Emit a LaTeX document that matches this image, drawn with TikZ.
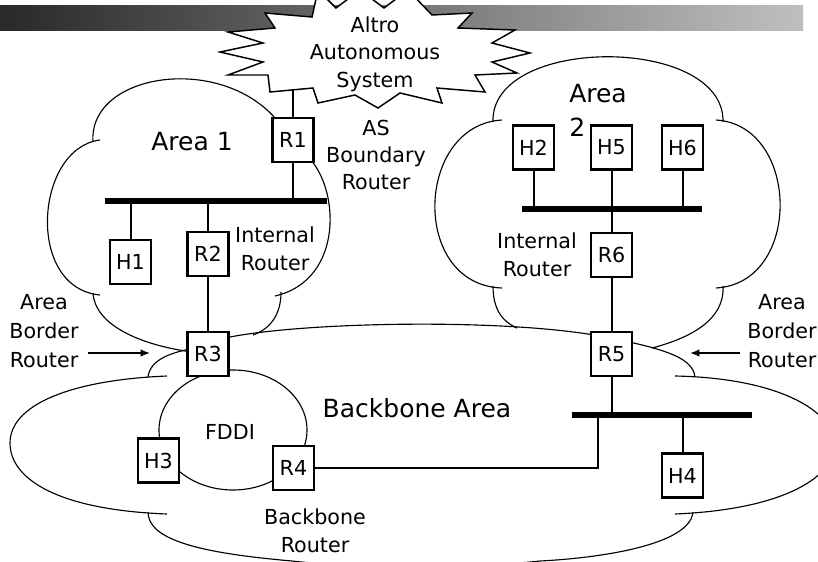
\documentclass[tikz,border=0pt]{standalone}
\usepackage{fontspec}
\setmainfont{DejaVu Sans}
\usetikzlibrary{arrows.meta}
\begin{document}
\begin{tikzpicture}[x=0.75pt,y=-0.75pt,
  devbox/.style={draw,line width=2pt,fill=white,minimum width=30.75pt,minimum height=33pt,inner sep=0pt,font=\fontsize{15.5}{18}\selectfont},
  wire/.style={line width=1.5pt},
  busbar/.style={line width=4.5pt},
  cloudline/.style={line width=0.85pt},
  lbl/.style={align=center,inner sep=0pt,font=\fontsize{15.5}{20.6}\selectfont},
  biglbl/.style={inner sep=0pt,font=\fontsize{18.75}{25.5}\selectfont},
  pointer/.style={line width=1pt,-{Latex[length=7pt,width=5.5pt]}}]

\clip (0,0) rectangle (818,561);

% title bar
\shade[left color=black!84,right color=black!25] (0,5) rectangle (803,30);

% ---- Area 1 cloud ----
\draw[cloudline] (93,142) .. controls (88,72) and (225,52) .. (280,124);
\draw[cloudline] (306,155) .. controls (340,185) and (345,280) .. (275,296);
\draw[cloudline] (281,292) .. controls (281,315) and (270,329) .. (253,335);
\draw[cloudline] (100,140) .. controls (35,148) and (25,288) .. (100,295);
\draw[cloudline] (93,293) .. controls (95,325) and (140,345) .. (192,352);

% ---- Area 2 cloud ----
\draw[cloudline] (493,122) .. controls (490,35) and (725,35) .. (723,122);
\draw[cloudline] (502,120) .. controls (415,125) and (410,285) .. (502,288);
\draw[cloudline] (716,120) .. controls (800,125) and (803,283) .. (716,288);
\draw[cloudline] (493,286) .. controls (493,310) and (503,322) .. (517,328);
\draw[cloudline] (723,286) .. controls (725,320) and (690,338) .. (652,348);

% ---- Backbone cloud ----
\draw[cloudline] (225,338) .. controls (300,322) and (500,318) .. (600,336);
\draw[cloudline] (625,341) .. controls (665,350) and (693,358) .. (695,377);
\draw[cloudline] (675,376) .. controls (880,380) and (895,505) .. (675,514);
\draw[cloudline] (693,512) .. controls (690,545) and (600,558) .. (540,561)
  .. controls (480,568) and (350,568) .. (292,561)
  .. controls (200,553) and (148,540) .. (148,512);
\draw[cloudline] (167,514) .. controls (60,510) and (10,480) .. (10,443)
  .. controls (10,405) and (70,380) .. (167,376);
\draw[cloudline] (148,377) .. controls (150,360) and (170,353) .. (190,349);

% FDDI ring
\draw[cloudline] (233,430) ellipse [x radius=74,y radius=60];

% autonomous system starburst
\draw[line width=1.1pt,fill=white] (220,52) -- (263,43) -- (228,32) -- (275,28) -- (265,13)
  -- (312,17) -- (318,-10) -- (336,8) -- (360,-10) -- (384,8) -- (408,-10) -- (432,15)
  -- (472,13) -- (458,28) -- (515,30) -- (492,43) -- (530,53) -- (492,62) -- (517,73)
  -- (475,75) -- (485,92) -- (437,88) -- (442,103) -- (400,93) -- (378,108) -- (355,95)
  -- (318,103) -- (313,88) -- (270,92) -- (268,75) -- (228,75) -- (263,62) -- cycle;
\node[lbl] (astext) at (375,54) {Altro\\Autonomous\\System};
\coordinate (asb) at (293,90);

% routers and hosts
\node[devbox] (R1) at (293,140) {R1};
\node[devbox] (R2) at (208,254) {R2};
\node[devbox] (R3) at (208,354) {R3};
\node[devbox] (H1) at (130.5,262) {H1};
\node[devbox] (H2) at (533.5,147.5) {H2};
\node[devbox] (H5) at (611.5,147.5) {H5};
\node[devbox] (H6) at (682.5,147.5) {H6};
\node[devbox] (R6) at (611.5,255) {R6};
\node[devbox] (R5) at (611.5,354) {R5};
\node[devbox] (H3) at (158.5,460.5) {H3};
\node[devbox] (R4) at (293.5,468) {R4};
\node[devbox] (H4) at (682.5,475.5) {H4};

% buses
\coordinate (b1L) at (105,201);
\coordinate (b1R) at (327,201);
\coordinate (b2L) at (522,209);
\coordinate (b2R) at (702,209);
\coordinate (b3L) at (572,415);
\coordinate (b3R) at (752,415);
\coordinate (b3tap) at (598,415);
\draw[busbar] (b1L) -- (b1R);
\draw[busbar] (b2L) -- (b2R);
\draw[busbar] (b3L) -- (b3R);

% links
\draw[wire] (asb) -- (R1.north);
\draw[wire] (R1.south) -- (R1.south |- b1L);
\draw[wire] (H1.north) -- (H1.north |- b1L);
\draw[wire] (R2.north) -- (R2.north |- b1L);
\draw[wire] (R2.south) -- (R3.north);
\draw[wire] (H2.south) -- (H2.south |- b2L);
\draw[wire] (H5.south) -- (H5.south |- b2L);
\draw[wire] (H6.south) -- (H6.south |- b2L);
\draw[wire] (R6.north) -- (R6.north |- b2L);
\draw[wire] (R6.south) -- (R5.north);
\draw[wire] (R5.south) -- (R5.south |- b3L);
\draw[wire] (H4.north) -- (H4.north |- b3L);
\draw[wire] (R4.east) -- (R4.east -| b3tap) -- (b3tap);

% labels
\node[biglbl] (a1) at (192,142) {Area 1};
\node[biglbl,align=left,anchor=west] (a2) at (569,110) {Area\\2};
\node[biglbl] (bb) at (417,408) {Backbone Area};
\node[lbl] (ir1) at (275,249) {Internal\\Router};
\node[lbl] (ir2) at (537,255) {Internal\\Router};
\node[lbl] (asbr) at (376,155) {AS\\Boundary\\Router};
\node[lbl,font=\fontsize{15.5}{21.75}\selectfont] (abrL) at (44,331) {Area\\Border\\Router};
\node[lbl,font=\fontsize{15.5}{21.75}\selectfont] (abrR) at (782,331) {Area\\Border\\Router};
\node[lbl] (fddi) at (230,432) {FDDI};
\node[lbl] (bbr) at (315,531) {Backbone\\Router};

% pointers to the area border routers
\coordinate (pL0) at (88,353);
\coordinate (pL1) at (150,353);
\coordinate (pR0) at (740,353);
\coordinate (pR1) at (690,353);
\draw[pointer] (pL0) -- (pL1);
\draw[pointer] (pR0) -- (pR1);
\end{tikzpicture}
\end{document}
